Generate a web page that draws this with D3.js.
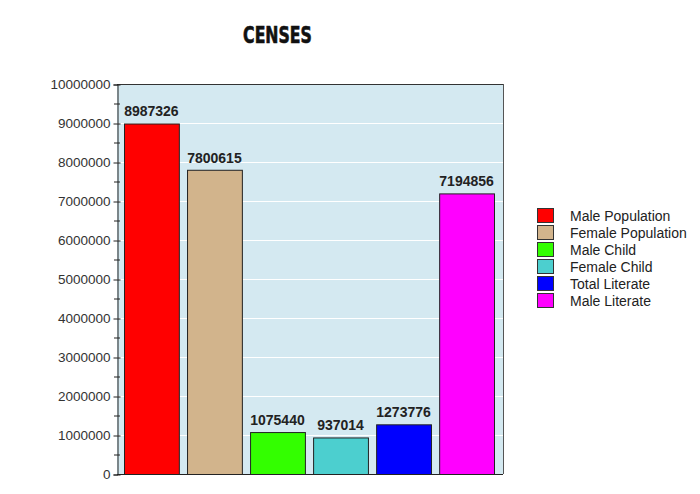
<!DOCTYPE html>
<html><head><meta charset="utf-8">
<script src="https://cdn.jsdelivr.net/npm/d3@7"></script>
<style>body{margin:0;background:#fff;}svg{display:block;font-family:Arial,"Liberation Sans",sans-serif;}</style>
</head><body><svg id="c" width="700" height="494"></svg>
<script>
const categories = ["Male Population","Female Population","Male Child","Female Child","Total Literate","Male Literate"];
const values = [8987326, 7800615, 1075440, 937014, 1273776, 7194856];
const colors = ["#ff0000","#d2b48c","#33ff00","#4ccfcf","#0000ff","#ff00ff"];
const yTicks = [0,1000000,2000000,3000000,4000000,5000000,6000000,7000000,8000000,9000000,10000000];

const svg = d3.select("#c");
const L=117, R=503, T=84, B=474;
const y = d3.scaleLinear().domain([0,10000000]).range([B,T]);
const x = d3.scaleBand().domain(categories).range([124,494]).paddingInner(0.13).paddingOuter(0);

svg.append("text").attr("x",0).attr("y",0).attr("text-anchor","middle")
  .attr("font-family","'DejaVu Sans Condensed','Liberation Sans Narrow',sans-serif")
  .attr("font-weight","bold").attr("font-size",23).attr("fill","#111")
  .attr("stroke","#111").attr("stroke-width",0.6)
  .attr("transform","translate(277.5,43) scale(0.76,1)")
  .text("CENSES");

svg.append("rect").attr("x",L).attr("y",T).attr("width",R-L).attr("height",B-T).attr("fill","#d4e9f1");
svg.append("g").selectAll("line").data(yTicks.slice(1,-1)).join("line")
  .attr("x1",L).attr("x2",R).attr("y1",d=>y(d)+0.5).attr("y2",d=>y(d)+0.5).attr("stroke","#fff").attr("stroke-width",1);
svg.append("line").attr("x1",L).attr("x2",R).attr("y1",T+0.5).attr("y2",T+0.5).attr("stroke","#333");
svg.append("line").attr("x1",R+0.5).attr("x2",R+0.5).attr("y1",T).attr("y2",B).attr("stroke","#555");

svg.append("g").selectAll("rect").data(values).join("rect")
  .attr("x",(d,i)=>x(categories[i])+0.5).attr("y",d=>y(d)+0.5)
  .attr("width",x.bandwidth()).attr("height",d=>B-y(d))
  .attr("fill",(d,i)=>colors[i]).attr("stroke","#222").attr("stroke-width",1);

svg.append("g").selectAll("text").data(values).join("text")
  .attr("x",(d,i)=>x(categories[i])+x.bandwidth()/2).attr("y",d=>y(d)-7)
  .attr("text-anchor","middle").attr("font-weight","bold").attr("font-size",14).attr("fill","#222")
  .text(d=>d);

// Axes
const yAxis = d3.axisLeft(y).tickValues(yTicks).tickSize(4).tickPadding(4).tickFormat(d=>d);
const ag = svg.append("g").attr("transform",`translate(${L+0.5},0.5)`).call(yAxis);
ag.select(".domain").attr("stroke","#222");
ag.selectAll(".tick line").attr("x1",-4).attr("x2",3).attr("stroke","#222");
ag.selectAll(".tick text").attr("font-size",13.5).attr("fill","#333").attr("font-family","Arial,'Liberation Sans',sans-serif").attr("x",-7);
const minor = d3.range(500000,10000000,1000000);
svg.append("g").selectAll("line").data(minor).join("line")
  .attr("x1",L-3).attr("x2",L+3).attr("y1",d=>y(d)+0.5).attr("y2",d=>y(d)+0.5).attr("stroke","#222");
svg.append("line").attr("x1",L).attr("x2",R).attr("y1",B+0.5).attr("y2",B+0.5).attr("stroke","#222");

// Legend
const lg = svg.append("g").attr("transform","translate(537,208)");
const row = lg.selectAll("g").data(categories).join("g").attr("transform",(d,i)=>`translate(0,${i*17})`);
row.append("rect").attr("x",0.5).attr("y",0.5).attr("width",16).attr("height",14).attr("fill",(d,i)=>colors[i]).attr("stroke","#333");
row.append("text").attr("x",33).attr("y",12.5).attr("font-size",14).attr("fill","#222").text(d=>d);
</script></body></html>
